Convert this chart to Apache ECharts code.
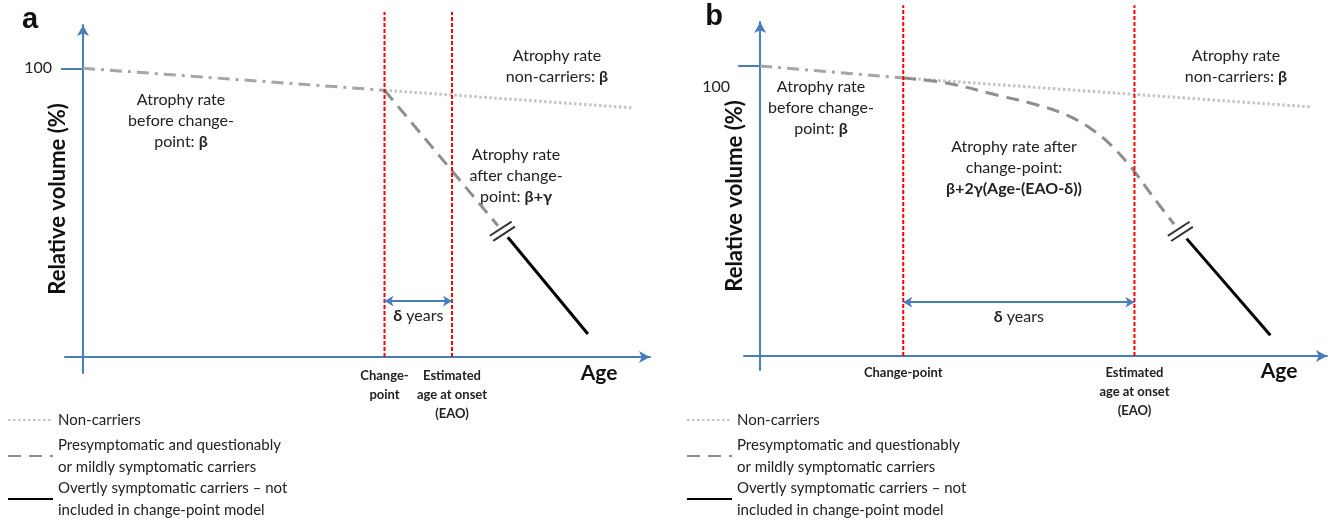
<!DOCTYPE html>
<html>
<head>
<meta charset="utf-8">
<title>Change-point model</title>
<script src="https://cdn.jsdelivr.net/npm/echarts@6/dist/echarts.min.js"></script>
<style>
html,body{margin:0;padding:0;background:#fff;}
#chart{width:1334px;height:525px;}
</style>
</head>
<body>
<div id="chart"></div>
<script>

// ---- panel a (linear change-point) ----
const aChangePoint = 33.5
const aEAO = 41
const aBefore = [[0,100],[33.5,92.4]]
const aNonCarriers = [[33.5,92.4],[61.2,86.3]]
const aCarriers = [[33.5,92.4],[46.1,45.5]]
const aOvert = [[47.2,41.5],[56.1,8.0]]
const aBreak = [[46.6,43.6]]
const aDeltaLevel = 19.4
const aRedTop = 119.5

// ---- panel b (quadratic change-point) ----
const bChangePoint = 15.9
const bEAO = 41.6
const bBefore = [[0,100],[15.9,95.9]]
const bNonCarriers = [[15.9,95.9],[61.3,85.9]]
const bCarriers = [[15.9,95.9],[20.8,94.1],[26.3,90.0],[30.8,86.6],[34.1,83.1],[37.0,77.9],[39.2,72.1],[41.3,64.8],[43.7,54.8],[46.0,45.5]]
const bOvert = [[47.4,40.5],[56.7,7.2]]
const bBreak = [[46.7,43.0]]
const bDeltaLevel = 18.6
const bRedTop = 121

const yTicks = [100]

const names = {
  non:"Non-carriers",
  pre:"Presymptomatic and questionably\nor mildly symptomatic carriers",
  overt:"Overtly symptomatic carriers \u2013 not\nincluded in change-point model"
}
const legendOrder = [names.non, names.pre, names.overt]
const legendTops = [409, 434, 477]

const FONT = 'Lato, "Open Sans", sans-serif'
const BLUE = "#4a7ebb"
const TXT = "#222"

const chart = echarts.init(document.getElementById("chart"))

function axes(idx, xmin, xmax, ymin, ymax, cp, eao, twoLineCp, yLabelMargin, yLabelText, nameGap){
  const x = {
    type:"value", gridIndex:idx, min:xmin, max:xmax,
    splitLine:{show:false}, axisTick:{show:false},
    axisLine:{show:true, onZero:true, symbol:["none","arrow"], symbolSize:[9,11], lineStyle:{color:BLUE,width:2}},
    axisLabel:{
      customValues:[cp,eao], margin:-7, color:TXT, fontFamily:FONT, fontWeight:"bold", fontSize:13, lineHeight:19,
      formatter:v => v === cp ? (twoLineCp ? "Change-\npoint" : "Change-point") : "Estimated\nage at onset\n(EAO)"
    }
  }
  const y = {
    type:"value", gridIndex:idx, min:ymin, max:ymax,
    splitLine:{show:false},
    axisLine:{show:true, onZero:true, symbol:["none","arrow"], symbolSize:[9,11], lineStyle:{color:BLUE,width:2}},
    axisTick:{show:true, customValues:yTicks, length:22, lineStyle:{color:BLUE,width:2}},
    axisLabel:{customValues:yTicks, margin:yLabelMargin, color:TXT, fontFamily:FONT, fontSize:16, lineHeight:21,
      formatter:yLabelText},
    name:"Relative volume (%)", nameLocation:"middle", nameRotate:90, nameGap:nameGap, nameMoveOverlap:false,
    nameTextStyle:{fontFamily:FONT, fontSize:22, fontWeight:"bold", color:"#111"}
  }
  return [x,y]
}

const [ax,ay] = axes(0,-2,63,-5.5,115,aChangePoint,aEAO,true,13,v => String(v),-4)
const [bx,by] = axes(1,-1.8,63,-4.8,115.2,bChangePoint,bEAO,false,14,v => "\n\n" + v,-2)

function panelSeries(idx, before, non, carriers, overt, brk, cp, eao, redTop, deltaLevel, smooth){
  const base = {type:"line", xAxisIndex:idx, yAxisIndex:idx, symbol:"none", silent:true, animation:false}
  return [
    {...base, name:"shared", data:before, lineStyle:{color:"#a6a6a6",width:3,type:[12,6,3,6]}},
    {...base, name:names.non, data:non, lineStyle:{color:"#c4c4c4",width:3,type:[2.5,2.5]}},
    {...base, name:names.pre, data:carriers, smooth:smooth, lineStyle:{color:"#8f8f8f",width:3,type:[13,8]}},
    {...base, name:names.overt, data:overt, lineStyle:{color:"#000",width:3}},
    {type:"scatter", xAxisIndex:idx, yAxisIndex:idx, silent:true, animation:false, data:brk,
      symbol:"path://M0,0h2v24h-2z M6,0h2v24h-2z", symbolSize:[8,26], symbolRotate:-57, itemStyle:{color:"#000"}},
    {...base, data:[[cp,0],[cp,redTop]], clip:false, lineStyle:{color:"#ff0000",width:2,type:[4,2]}},
    {...base, data:[[eao,0],[eao,redTop]], clip:false, lineStyle:{color:"#ff0000",width:2,type:[4,2]},
      markLine:{
        silent:true, animation:false, symbol:["arrow","arrow"], symbolSize:[8,9],
        lineStyle:{color:BLUE,width:2,type:"solid"},
        label:{show:true, position:"insideMiddleBottom", distance:7, color:TXT, fontFamily:FONT, fontSize:16,
          formatter:"{d|\u03b4} years", rich:{d:{fontWeight:"bold", fontFamily:FONT, fontSize:16, color:TXT}}},
        data:[[{coord:[cp,deltaLevel]},{coord:[eao,deltaLevel]}]]
      }}
  ]
}

function note(x, y, text){
  return {
    type:"text", x:x, y:y,
    style:{
      text:text, align:"center", verticalAlign:"top", fill:TXT,
      fontFamily:FONT, fontSize:16, lineHeight:21,
      rich:{b:{fontWeight:"bold", fontFamily:FONT, fontSize:16, lineHeight:21, fill:TXT}}
    }
  }
}

function big(x, y, text, size, family){
  return {type:"text", x:x, y:y, style:{text:text, align:"center", verticalAlign:"middle", fill:"#111",
    fontFamily:family, fontSize:size, fontWeight:"bold"}}
}

// one legend block per entry so the stacked two-line items keep their places
function legends(left){
  return legendOrder.map((n,i) => ({
    left:left, top:legendTops[i], padding:0, orient:"vertical", itemWidth:45, itemHeight:14,
    selectedMode:false, data:[n],
    itemStyle:{color:"rgba(0,0,0,0)", borderWidth:0},
    textStyle:{fontFamily:FONT, fontSize:15, lineHeight:22, color:TXT}
  }))
}

chart.setOption({
  animation:false,
  grid:[
    {left:65, top:25, width:585, height:348, outerBoundsMode:"none"},
    {left:744, top:22, width:583, height:348, outerBoundsMode:"none"}
  ],
  xAxis:[ax,bx],
  yAxis:[ay,by],
  legend:[...legends(7), ...legends(686)],
  series:[
    ...panelSeries(0,aBefore,aNonCarriers,aCarriers,aOvert,aBreak,aChangePoint,aEAO,aRedTop,aDeltaLevel,false),
    ...panelSeries(1,bBefore,bNonCarriers,bCarriers,bOvert,bBreak,bChangePoint,bEAO,bRedTop,bDeltaLevel,0.35)
  ],
  graphic:[
    big(30,20,"a",29,'"Liberation Sans", Arial'),
    big(714,17,"b",29,'"Liberation Sans", Arial'),
    big(599,373,"Age",21,FONT),
    big(1279,371,"Age",21,FONT),
    note(181,89.5,"Atrophy rate\nbefore change-\npoint: {b|\u03b2}"),
    note(557,45.5,"Atrophy rate\nnon-carriers: {b|\u03b2}"),
    note(516,144.5,"Atrophy rate\nafter change-\npoint: {b|\u03b2+\u03b3}"),
    note(821,76.5,"Atrophy rate\nbefore change-\npoint: {b|\u03b2}"),
    note(1236,45.5,"Atrophy rate\nnon-carriers: {b|\u03b2}"),
    note(1014,136.5,"Atrophy rate after\nchange-point:\n{b|\u03b2+2\u03b3(Age-(EAO-\u03b4))}")
  ]
})

</script>
</body>
</html>
